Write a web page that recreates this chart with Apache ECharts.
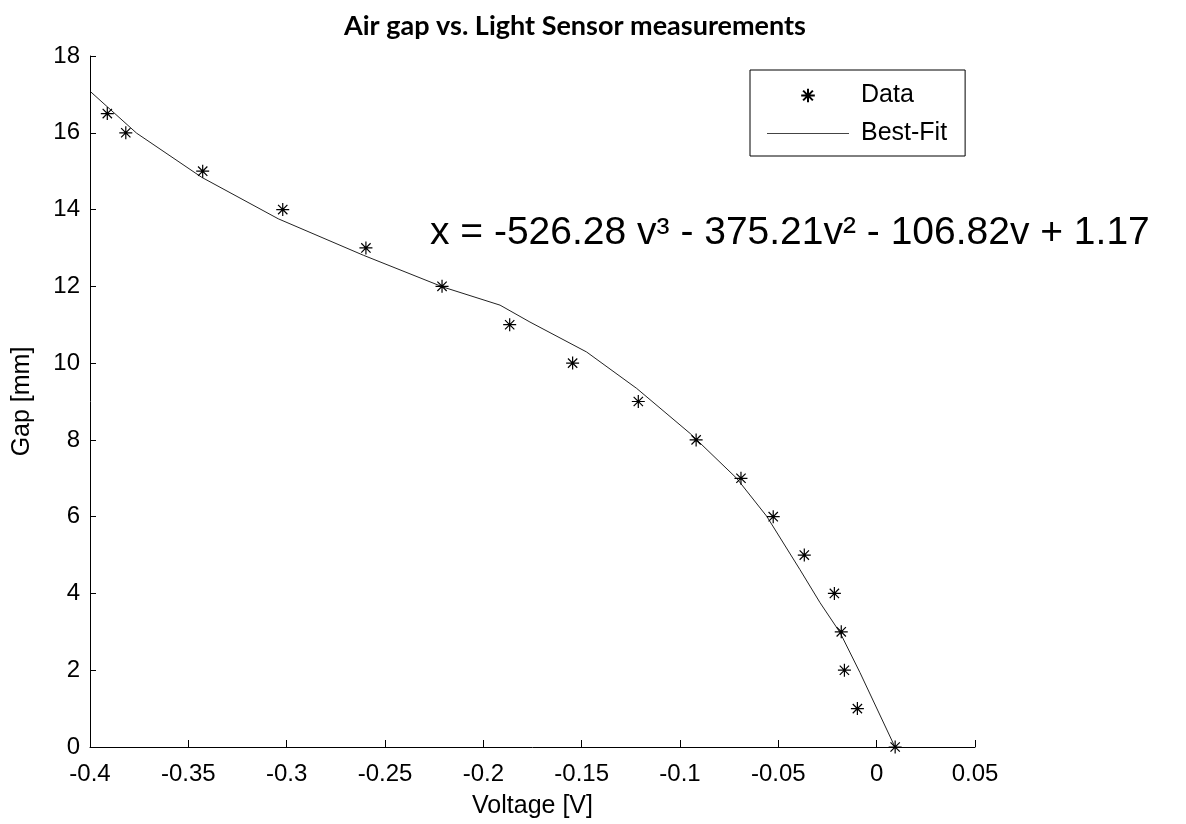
<!DOCTYPE html>
<html>
<head>
<meta charset="utf-8">
<script src="https://cdn.jsdelivr.net/npm/echarts@6/dist/echarts.min.js"></script>
<style>html,body{margin:0;padding:0;background:#fff;}#c{width:1186px;height:824px;}</style>
</head>
<body>
<div id="c"></div>
<script>
// Measured data (voltage [V], gap [mm])
const dataVoltage = [-0.3912, -0.3818, -0.3427, -0.3020, -0.2597, -0.2210, -0.1866, -0.1546, -0.1212, -0.0918, -0.0690, -0.0526, -0.0368, -0.0215, -0.0180, -0.0164, -0.0098, 0.0094];
const dataGap     = [16.5, 16, 15, 14, 13, 12, 11, 10, 9, 8, 7, 6, 5, 4, 3, 2, 1, 0];
// Best-fit curve
const fitVoltage = [-0.3995, -0.3763, -0.3432, -0.3043, -0.2610, -0.2204, -0.1915, -0.1763, -0.1475, -0.1220, -0.0949, -0.0712, -0.0559, -0.0390, -0.0288, -0.0186, -0.0085, 0.0093];
const fitGap     = [17.06, 15.99, 14.84, 13.76, 12.81, 11.98, 11.51, 11.07, 10.29, 9.34, 8.17, 7.00, 6.01, 4.62, 3.76, 2.98, 1.94, 0];
const titleText = 'Air gap vs. Light Sensor measurements';
const xName = 'Voltage [V]';
const yName = 'Gap [mm]';
const equation = 'x = -526.28 v\u00B3 - 375.21v\u00B2 - 106.82v + 1.17';

const star = 'path://M0,-6L0,6M-6,0L6,0M-4.3,-4.3L4.3,4.3M-4.3,4.3L4.3,-4.3';
const legendStar = 'path://M-11,-11M11,11M0,-6L0,6M-6,0L6,0M-4.3,-4.3L4.3,4.3M-4.3,4.3L4.3,-4.3';
const legendLine = 'path://M0,0L82,0L82,0.8L0,0.8Z';
const font = 'Liberation Sans, Arial, sans-serif';

const chart = echarts.init(document.getElementById('c'));
chart.setOption({
  backgroundColor: '#fff',
  animation: false,
  title: {
    text: titleText, left: 570, top: 8, textAlign: 'center',
    textStyle: {fontFamily: 'Lato', fontWeight: 'bold', fontSize: 27, color: '#000'}
  },
  grid: {left: 90, right: 211, top: 56, bottom: 76, containLabel: false},
  legend: {
    orient: 'vertical', left: 750, top: 70,
    backgroundColor: '#fff',
    borderColor: '#000', borderWidth: 1, borderRadius: 0,
    padding: [12, 18, 10, 17],
    itemWidth: 82, itemHeight: 25, itemGap: 12,
    symbolKeepAspect: true,
    textStyle: {fontFamily: font, fontSize: 25, color: '#000', padding: [0, 0, 0, 7]},
    data: [
      {name: 'Data', icon: legendStar},
      {name: 'Best-Fit', icon: legendLine, itemStyle: {color: '#444', borderWidth: 0}}
    ]
  },
  xAxis: {
    type: 'value', min: -0.4, max: 0.05, interval: 0.05,
    name: xName, nameLocation: 'middle', nameGap: 47,
    nameTextStyle: {fontFamily: font, fontSize: 25, color: '#000'},
    axisLine: {show: true, onZero: false, lineStyle: {color: '#000', width: 1}},
    axisTick: {show: true, inside: true, length: 7, lineStyle: {color: '#000'}},
    axisLabel: {fontFamily: font, fontSize: 24, color: '#000', margin: 15},
    splitLine: {show: false}
  },
  yAxis: {
    type: 'value', min: 0, max: 18, interval: 2,
    name: yName, nameLocation: 'middle', nameGap: 55, nameRotate: 90,
    nameTextStyle: {fontFamily: font, fontSize: 25, color: '#000'},
    axisLine: {show: true, onZero: false, lineStyle: {color: '#000', width: 1}},
    axisTick: {show: true, inside: true, length: 6, lineStyle: {color: '#000'}},
    axisLabel: {fontFamily: font, fontSize: 24, color: '#000', margin: 10},
    splitLine: {show: false}
  },
  graphic: [{
    type: 'text', left: 430, top: 214,
    style: {text: equation, font: '39px ' + font, fill: '#000'}
  }],
  series: [
    {
      name: 'Data', type: 'scatter',
      data: dataVoltage.map((v, i) => [v, dataGap[i]]),
      symbol: star, symbolSize: 13, symbolKeepAspect: true,
      itemStyle: {color: 'rgba(0,0,0,0)', borderColor: '#000', borderWidth: 1.2, opacity: 1},
      z: 3
    },
    {
      name: 'Best-Fit', type: 'line',
      data: fitVoltage.map((v, i) => [v, fitGap[i]]),
      symbol: 'none', showSymbol: false,
      lineStyle: {color: '#222', width: 1},
      itemStyle: {color: '#444'},
      z: 2
    }
  ]
});
</script>
</body>
</html>
